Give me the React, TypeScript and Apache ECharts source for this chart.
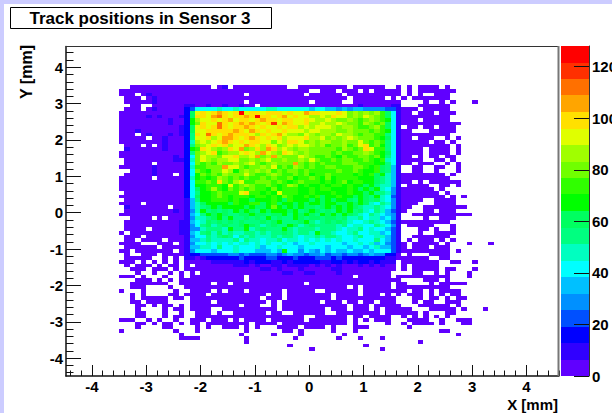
import React, { useEffect, useRef } from "react";
import * as echarts from "echarts";

const TITLE = "Track positions in Sensor 3";
const X_TITLE = "X [mm]";
const Y_TITLE = "Y [mm]";
const MAJOR_TICKS = [-4, -3, -2, -1, 0, 1, 2, 3, 4];
const COLOR_TICKS = [0, 20, 40, 60, 80, 100, 120];
const COLOR_MAX = 128;
const BIN = 0.1;
const FIRST_X = -3.5;
const TOP_Y = 3.5;
const PALETTE = ["#6000ff","#3000ff","#0000ff","#0050ff","#0090ff","#00c0ff","#00ffff","#00ffc0","#00ff80","#00ff60","#00ff00","#30ff00","#70ff00","#a0ff00","#e0ff00","#ffe000","#ffa500","#ff7000","#ff3000","#ff0000"];
const BAND_CHARS = "0123456789abcdefghij";
const FIELD_WIDTHS = [13, 1, 12, 12, 12, 1, 18];

// Each character is a cell's colour band; "." is an empty cell.
const ROWS = [
"..00000000000 0 000.01.00000 00000..00000 0000.000000. . 0.0.0000.0........",
"0000000000000 0 000000000000 000000000..0 00.000.0.000 0 0.0.0000000.......",
"000.010000000 0 000000000.00 00000000.000 000.00000000 0 0.0.0..000........",
".000.01000000 0 000000000000 000000000000 0000.000000. 0 .0.0000000........",
".000001000000 0 000000000.00 000000000.00 000..0000000 0 0....0..0.0...0...",
"..00..0000001 1 00100100100. 000000000000 000000100000 1 1...000000........",
".000.01000002 3 666676676666 677666666566 554545544443 3 1000.00000........",
"0000000000002 9 efefgfefjeff efffefeegffe eefecdcdcdb9 6 100.000.000.......",
"0000010100012 9 ffeghfeffgfj ffefgefeedde dfeecdcedcb9 6 1000000000........",
"0000000001002 a deefefgeffef gffeffeefedd edccdcbcdcba 6 1000.00000........",
"0000000001002 a cfeehfefgfgf efiegfeefdde ddedccbdcbc9 6 100000000000......",
"0000000000012 9 efefhfeffgfe feefeffdedee edcddcbbcdb9 6 1.00.00.000.......",
"0001000000012 9 eefffffgfegf efeefeeedeed ddccdcccbcba 6 100...00000.......",
"000.010001012 8 fehfefgfffed fefgeddcedcd dceddcbccbb8 6 1000000000........",
"00000.0010002 8 eefdeggfefgf efefdeeefdde cdcdedcccba9 6 100.000..0.0......",
"0000000010002 7 dedefgfefeff eecedffecdcd dccdccecbcb8 6 100000.00.0.......",
".000.0.010002 8 cdefefdeegfe dfecdedeedcd bccdbcefbca8 6 1000000000.0......",
".100000010002 a bfedcdfegcdf dgfdedcddccc ccbdcbcfebb8 6 10000.0000.0......",
"0000000000002 8 cdefbcddefed gedcfedcdccc cbcbbccdcba9 6 10000.0000.0......",
"0000000000102 6 ceddceefddeg cdgdcccedcbb cbacbbccbca8 6 100.0.00.00.......",
".000000000112 7 cedcddeeccdc deccdccdcecb bcbccbbcbab7 6 10000..00.0.......",
".00000.000002 6 cbcbdccdcdec bcdcccgcbcbc bbbcccbbbaa8 6 100.000..0.0......",
"0000001000002 7 bbcccgeecbcc dcebcbdcbcbb ccbbbccbab98 5 1..00..00..0......",
"..00001000002 6 cbaccedacdcd cdbcbccbcbbb bbcbbcbaab98 5 1..00..0...0......",
".000001000.02 6 acbcbdcccecb bcdcbbcbcabb cbbbbabab9a7 5 100000000.0.......",
"000000.000002 7 ababdcbcbcbb cbcbbcabbcba cabbbbaaa987 5 1000000000........",
"0000000000002 6 bbcbfcbdebbc ccbcbabcbbba babcabbaa987 5 100.0.000000......",
"0000000000002 6 aabbbaebcdcb bcbabdcabaab abbabaa9a877 5 1.0000..00.0......",
"0000000000002 6 9abdbacbcbcb bacabbbaabab baaaba9a9a76 4 1000000.0.........",
".000000000002 6 8aabcbbbefbb abaebbbaabaa abaabaa9a887 4 10000000.0........",
"0000000000002 6 9aabcbabbbab babacbaabab9 aabaa9a98a76 3 100000000.0.0.....",
".000000000001 5 8aabbbabaa9a aaba9baaa9a9 a9aa98a98976 4 10000..0000.......",
"0000.00000001 5 79aaaa9baabb 9ab9aa9a9aa9 aa99a9a97687 4 1000...0000.......",
".10000000.001 5 789a9aaaa9a9 9aca9a9a9989 a9a9a9877876 4 100..00000000.....",
".000000000101 4 7a89898a9a98 a9aaa9a89a98 98a9a8976875 3 10...00.000.......",
"0000000000001 5 68a9a98899a9 9899a8a9a98a 9a8a98768765 4 1..00000000000....",
"..0000.0.0001 4 7789a8a88989 8a8988a98998 998977867756 4 1....0..000.......",
".000000000011 5 679898989888 989a8889a878 989876678765 3 1000000000........",
".000000000011 4 689789889a98 78988a978988 887867766876 4 1.00000...0.......",
".0000.0000011 4 478887a88a78 9888a8788878 887677867665 3 1...00.0..0.......",
"0.00000000011 5 689797877887 8788987887a8 876678667756 3 1...0..0000.......",
".000.00000001 4 668789868787 778788767787 887667866775 3 1..0000000........",
".00.0000.0001 5 578777786877 677867767676 767667666865 3 1.0.000.0.0.......",
"0000...000.01 4 667676767767 676676566766 666566767564 3 10.00000.0...0...0",
".000000.00001 5 577686676667 566766656666 566656656755 3 10.000.000........",
"00.0000000.01 4 666566676665 5565a6646546 565565565666 3 1000000000.0......",
".0..000.00001 2 233333443433 344345443445 344344345442 2 0.0...0000........",
".00000..0.0.1 1 012222223222 233222322233 323222222221 1 000000..00........",
"000.0.0.0.0.0 0 000111111212 221121222221 122121221211 1 .0000000..00..0...",
".0.000.0.00.0 . 000000011101 001101111010 101000101010 0 .0.00000..........",
"..000.000.0.0 0 000000000000 110100010000 011000000000 0 .0.00000.00...0...",
"...0..0..0.0. 0 .00000000000 000011001100 001000000000 . ...00..0.0...0....",
"000.0...0..0. 0 000000000.00 000000000000 00000.000000 . 0000000000...0....",
"...000.0.0.00 0 000000000.00 000000000000 000000000000 0 0....000.0........",
"..0000000..00 0 000.00.00000 00000000.000 000000000000 . 00....0.00000.....",
"..000....0..0 0 000000000000 000000000000 0000.0.00000 . 0000000000........",
"0...0.....0.. 0 000.0.000.00 0000.00000.. 000000.00000 0 00.00.0.0000......",
"..0.0....00.0 0 00.000000000 0.00.0000000 0.0000.000.0 . 0.000.0.0.00......",
"..0.00000.00. 0 000000000000 .000.0000000 0.0000000000 0 ...00.00.0.00.....",
"..00.0000.... 0 000.00000000 0.0.0000000. 000.00.00.00 0 ...0.00..000......",
"...00.0.00.0. 0 00000000.000 ..0.00000000 0000.000.000 0 0...000000.0......",
"...0....0.00. 0 000..0000000 000.00000000 .000.000.0.0 0 000...00000.0...0.",
"...00...0..0. . 000.0..00000 0.00..000000 ..00000000.0 0 0000.0...00.......",
"...00...0.00. . 000000000000 00000000..00 0000.00.0000 . .0.0.0.0.0........",
"000..0.0..0.. 0 00.000.0.000 0.000000.000 0000.0.0.000 . ..0000..0..000....",
"...00.0.00.0. 0 0.00000000.0 000.00000000 0000.0.....0 . .0.0000.0...00....",
"...0....00... . 0.0..000.0.0 ...0000.0000 .0...000.... . ..0...............",
"0.........0.. . 0........0.. ....00.0.... .0...0...... . ........00........",
"...........0. . ........0... ..0....0.... ...0........ . ...........0......",
"...........00 0 0........0.. ......0..... ..0...0...0. . ..................",
"............. . .........0.. ............ ............ . ....0.............",
"............. . ............ .....0...... .......0.... . ..................",
"............. . ............ .........0.. ..........0. . ..................",
];

const BAND_SIZE = COLOR_MAX / PALETTE.length;
const colorOf = (v: number) => PALETTE[Math.min(PALETTE.length - 1, Math.floor(v / BAND_SIZE))];

function buildCells() {
  const cells: number[][] = [];
  ROWS.forEach((row, r) => {
    const fields = row.split(" ");
    let col = 0;
    FIELD_WIDTHS.forEach((w, i) => {
      const f = fields[i] ?? "";
      for (let k = 0; k < w; k++) {
        const idx = BAND_CHARS.indexOf(f[k] ?? ".");
        if (idx >= 0) {
          cells.push([
            FIRST_X + (col + k) * BIN,
            TOP_Y - (r + 1) * BIN,
            (idx + 0.5) * BAND_SIZE,
          ]);
        }
      }
      col += w;
    });
  });
  return cells;
}

const minorTicks = (lo: number, hi: number) => {
  const out: number[] = [];
  for (let i = Math.ceil(lo * 5); i <= Math.floor(hi * 5); i++) if (i % 5 !== 0) out.push(i / 5);
  return out;
};

const FONT = "Liberation Sans";
const XMIN = -4.476, XMAX = 4.6, YMIN = -4.49, YMAX = 4.57;
const AX = "#111";

export default function App() {
  const ref = useRef<HTMLDivElement>(null);
  useEffect(() => {
    document.body.style.margin = "0";
    const chart = echarts.init(ref.current!, undefined, { renderer: "svg" });
    const labelStyle = { fontFamily: FONT, fontWeight: "bold" as const, fontSize: 15, color: "#000" };
    const renderCell = (_p: any, api: any) => {
      const x = api.value(0), y = api.value(1);
      const a = api.coord([x, y + BIN]);
      const b = api.coord([x + BIN, y]);
      const x0 = Math.round(a[0]), y0 = Math.round(a[1]);
      return {
        type: "rect",
        shape: { x: x0, y: y0, width: Math.round(b[0]) - x0, height: Math.round(b[1]) - y0 },
        style: { fill: colorOf(api.value(2)) },
      };
    };
    const renderBand = (_p: any, api: any) => {
      const i = api.value(0);
      const a = api.coord([0, (i + 1) * BAND_SIZE]);
      const b = api.coord([1, i * BAND_SIZE]);
      return {
        type: "rect",
        shape: { x: a[0], y: Math.round(a[1]), width: b[0] - a[0], height: Math.round(b[1]) - Math.round(a[1]) },
        style: { fill: PALETTE[i] },
      };
    };
    chart.setOption({
      animation: false,
      backgroundColor: "#ccccff",
      grid: [
        { left: 66, top: 46.5, width: 493, height: 329.5, show: false, outerBoundsMode: "none" },
        { left: 561, top: 46, width: 28, height: 330, show: false, outerBoundsMode: "none" },
      ],
      xAxis: [
        {
          type: "value", gridIndex: 0, min: XMIN, max: XMAX, position: "bottom", z: 5,
          axisLine: { onZero: false, lineStyle: { color: AX, width: 1.5 } },
          axisTick: { inside: true, length: 11, customValues: MAJOR_TICKS, lineStyle: { color: AX } },
          axisLabel: { ...labelStyle, customValues: MAJOR_TICKS, margin: 3 },
          splitLine: { show: false },
        },
        {
          type: "value", gridIndex: 0, min: XMIN, max: XMAX, position: "bottom", z: 5,
          axisLine: { show: false, onZero: false },
          axisTick: { inside: true, length: 5.5, customValues: minorTicks(XMIN, XMAX), lineStyle: { color: AX } },
          axisLabel: { show: false },
          splitLine: { show: false },
        },
        { type: "value", gridIndex: 1, min: 0, max: 1, show: false },
      ],
      yAxis: [
        {
          type: "value", gridIndex: 0, min: YMIN, max: YMAX, position: "left", z: 5,
          axisLine: { onZero: false, lineStyle: { color: AX, width: 1.5 } },
          axisTick: { inside: true, length: 15, customValues: MAJOR_TICKS, lineStyle: { color: AX } },
          axisLabel: { ...labelStyle, customValues: MAJOR_TICKS, margin: 3 },
          splitLine: { show: false },
        },
        {
          type: "value", gridIndex: 0, min: YMIN, max: YMAX, position: "left", z: 5,
          axisLine: { show: false, onZero: false },
          axisTick: { inside: true, length: 7.5, customValues: minorTicks(YMIN, YMAX), lineStyle: { color: AX } },
          axisLabel: { show: false },
          splitLine: { show: false },
        },
        {
          type: "value", gridIndex: 1, min: 0, max: COLOR_MAX, position: "right", z: 5,
          axisLine: { onZero: false, lineStyle: { color: "#333", width: 1 } },
          axisTick: { inside: true, length: 15, customValues: COLOR_TICKS, lineStyle: { color: "#111" } },
          axisLabel: { ...labelStyle, customValues: COLOR_TICKS, margin: 3 },
          splitLine: { show: false },
        },
      ],
      series: [
        {
          type: "custom", xAxisIndex: 0, yAxisIndex: 0, coordinateSystem: "cartesian2d",
          renderItem: renderCell, data: buildCells(), encode: { x: 0, y: 1 }, silent: true, clip: true,
        },
        {
          type: "custom", xAxisIndex: 2, yAxisIndex: 2, coordinateSystem: "cartesian2d",
          renderItem: renderBand, data: PALETTE.map((_, i) => [i]), encode: { y: 0 }, silent: true,
        },
      ],
      graphic: [
        { type: "rect", z: -10, shape: { x: 4, y: 4, width: 608, height: 409 }, style: { fill: "#fff" } },
        { type: "line", z: 10, shape: { x1: 66, y1: 46.5, x2: 559, y2: 46.5 }, style: { stroke: "#333", lineWidth: 1 } },
        { type: "line", z: 10, shape: { x1: 558.5, y1: 46, x2: 558.5, y2: 376 }, style: { stroke: "#777", lineWidth: 2 } },
        { type: "rect", z: 10, shape: { x: 10.5, y: 7.5, width: 261, height: 21 }, style: { fill: "#fff", stroke: "#000", lineWidth: 1 } },
        { type: "text", z: 11, style: { x: 140, y: 18.5, text: TITLE, align: "center", verticalAlign: "middle", fontFamily: FONT, fontWeight: "bold", fontSize: 17, fill: "#000" } },
        { type: "text", z: 11, rotation: Math.PI / 2, x: 26, y: 72, style: { x: 0, y: 0, text: Y_TITLE, align: "center", verticalAlign: "middle", fontFamily: FONT, fontWeight: "bold", fontSize: 16, fill: "#000" } },
        { type: "text", z: 11, style: { x: 558, y: 404, text: X_TITLE, align: "right", verticalAlign: "middle", fontFamily: FONT, fontWeight: "bold", fontSize: 15, fill: "#000" } },
      ],
    });
    return () => chart.dispose();
  }, []);
  return <div ref={ref} style={{ width: 612, height: 413 }} />;
}
